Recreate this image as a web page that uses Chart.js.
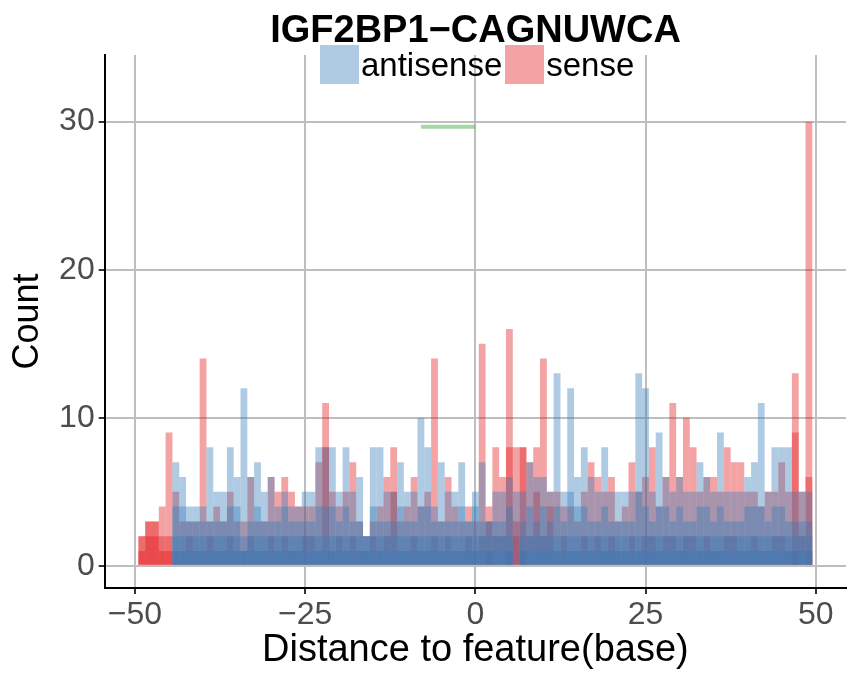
<!DOCTYPE html>
<html>
<head>
<meta charset="utf-8">
<script src="https://cdn.jsdelivr.net/npm/chart.js@4.4.1/dist/chart.umd.min.js"></script>
<style>
  html, body { margin: 0; padding: 0; background: #fff; }
  #wrap { position: relative; width: 848px; height: 673px; font-family: "Liberation Sans", Arial, sans-serif; }
  #chart { position: absolute; left: 0; top: 0; }
  #title { position: absolute; left: 105px; width: 741px; top: 10px; text-align: center;
           font-weight: bold; font-size: 38px; line-height: 38px; color: #000; }
  #legend { position: absolute; left: 320px; top: 45px; height: 39px; display: flex; align-items: center;
            font-size: 33px; color: #000; }
  #legend .key { width: 39px; height: 39px; }
  #legend .lab { margin: 0 3px 0 2px; line-height: 39px; }
</style>
</head>
<body>
<div id="wrap">
  <canvas id="chart" width="848" height="673"></canvas>
  <div id="title">IGF2BP1&minus;CAGNUWCA</div>
  <div id="legend">
    <div class="key" style="background: rgba(55,126,184,0.4)"></div><span class="lab">antisense</span>
    <div class="key" style="background: rgba(228,26,28,0.4)"></div><span class="lab">sense</span>
  </div>
</div>
<script>
// bins: distance -49 .. 49 (width 1)
const bins = [];
for (let v = -49; v <= 49; v++) bins.push(v);

// tallest layer of each strand
const antisense = [
  0, 0, 0, 0, 0, 7, 6, 4, 4, 4,
  8, 5, 5, 8, 6, 12, 6, 7, 5, 6,
  4, 5, 4, 4, 5, 5, 8, 8, 8, 5,
  8, 5, 6, 2, 8, 8, 5, 5, 7, 5,
  5, 10, 8, 4, 7, 5, 5, 7, 3, 5,
  7, 3, 5, 5, 6, 5, 5, 7, 6, 6,
  5, 13, 5, 12, 6, 8, 6, 5, 8, 5,
  5, 5, 5, 13, 12, 5, 9, 6, 5, 6,
  5, 5, 7, 6, 5, 9, 5, 5, 5, 6,
  7, 11, 5, 8, 8, 8, 5, 5, 5
];
const sense = [
  2, 3, 3, 4, 9, 5, 3, 3, 3, 14,
  3, 4, 3, 5, 3, 3, 6, 3, 3, 6,
  5, 6, 5, 4, 4, 4, 7, 11, 5, 4,
  5, 7, 3, 2, 3, 4, 6, 8, 3, 4,
  6, 4, 5, 14, 3, 6, 4, 3, 4, 3,
  15, 4, 8, 6, 16, 8, 8, 7, 8, 14,
  5, 5, 4, 4, 3, 5, 7, 6, 5, 6,
  3, 4, 7, 5, 6, 8, 4, 6, 11, 6,
  10, 8, 5, 6, 6, 5, 8, 7, 7, 5,
  5, 4, 5, 5, 7, 5, 13, 5, 30
];

// lower overlapping layers (darker where they pile up)
const antisenseMid = [
  0, 0, 0, 0, 0, 4, 4, 3, 3, 3,
  3, 3, 3, 4, 4, 2, 3, 4, 3, 3,
  3, 4, 3, 3, 3, 3, 4, 4, 4, 3,
  4, 3, 3, 2, 4, 3, 3, 3, 4, 3,
  3, 4, 4, 3, 3, 3, 3, 4, 3, 4,
  3, 3, 3, 3, 4, 0, 3, 4, 3, 4,
  3, 4, 3, 5, 4, 4, 3, 3, 4, 3,
  3, 3, 3, 5, 4, 3, 4, 4, 3, 4,
  3, 3, 4, 4, 3, 4, 3, 3, 3, 4,
  4, 4, 3, 4, 4, 3, 3, 3, 3
];
const antisenseCore = [
  0, 0, 0, 0, 0, 2, 2, 2, 2, 2,
  2, 2, 2, 2, 2, 1, 2, 2, 2, 2,
  2, 2, 2, 2, 2, 2, 2, 2, 2, 2,
  2, 2, 2, 2, 2, 2, 2, 2, 2, 2,
  2, 2, 2, 2, 2, 2, 2, 2, 2, 2,
  2, 2, 2, 2, 2, 0, 2, 2, 2, 2,
  2, 2, 2, 2, 2, 2, 2, 2, 2, 2,
  2, 2, 2, 2, 2, 2, 2, 2, 2, 2,
  2, 2, 2, 2, 2, 2, 2, 2, 2, 2,
  2, 2, 2, 2, 2, 2, 2, 2, 2
];
const antisenseBase = [
  0, 0, 0, 0, 0, 1, 1, 1, 1, 1,
  1, 1, 1, 1, 1, 1, 1, 1, 1, 1,
  1, 1, 1, 1, 1, 1, 1, 1, 1, 1,
  1, 1, 1, 1, 1, 1, 1, 1, 1, 1,
  1, 1, 1, 1, 1, 1, 1, 1, 1, 1,
  1, 1, 1, 1, 1, 0, 1, 1, 1, 1,
  1, 1, 1, 1, 1, 1, 1, 1, 1, 1,
  1, 1, 1, 1, 1, 1, 1, 1, 1, 1,
  1, 1, 1, 1, 1, 1, 1, 1, 1, 1,
  1, 1, 1, 1, 1, 1, 1, 1, 1
];
const senseMid = [
  2, 3, 3, 2, 2, 1, 1, 2, 1, 1,
  2, 1, 1, 2, 1, 1, 2, 1, 1, 2,
  1, 2, 1, 1, 2, 2, 1, 8, 1, 2,
  1, 2, 1, 1, 2, 1, 2, 5, 1, 1,
  2, 1, 1, 2, 1, 2, 1, 1, 2, 1,
  2, 3, 2, 2, 8, 3, 8, 2, 5, 2,
  4, 1, 2, 1, 1, 2, 1, 2, 1, 2,
  1, 1, 2, 1, 2, 2, 1, 2, 2, 1,
  2, 2, 1, 2, 1, 1, 2, 2, 1, 1,
  2, 1, 1, 2, 2, 1, 9, 2, 6
];
const senseCore = [
  1, 2, 2, 1, 1, 0, 0, 0, 0, 0,
  0, 0, 0, 0, 0, 0, 0, 0, 0, 0,
  0, 0, 0, 0, 0, 0, 0, 0, 0, 0,
  0, 0, 0, 0, 0, 0, 0, 0, 0, 0,
  0, 0, 0, 0, 0, 0, 0, 0, 0, 0,
  0, 1, 0, 0, 1, 2, 1, 0, 0, 0,
  0, 0, 0, 0, 0, 0, 0, 0, 0, 0,
  0, 0, 0, 0, 0, 0, 0, 0, 0, 0,
  0, 0, 0, 0, 0, 0, 0, 0, 0, 0,
  0, 0, 0, 0, 0, 0, 1, 0, 1
];

// green feature mark
const markX = [-8, 0];
const markY = 29.65;

const xTicks = [-50, -25, 0, 25, 50];
const yTicks = [0, 10, 20, 30];

const BLUE = 'rgba(55,126,184,0.4)';
const RED = 'rgba(228,26,28,0.4)';

function toPoints(arr) {
  return bins.map((b, i) => ({ x: b, y: arr[i] }));
}

function barSet(label, arr, color) {
  return { type: 'bar', label: label, data: toPoints(arr), backgroundColor: color };
}

const datasets = [
  {
    type: 'line',
    label: 'feature',
    data: markX.map(x => ({ x: x, y: markY })),
    borderColor: 'rgba(77,175,74,0.5)',
    borderWidth: 4,
    pointRadius: 0,
  },
  barSet('antisense', antisense, BLUE),
  barSet('antisense2', antisenseMid, BLUE),
  barSet('antisense3', antisenseCore, BLUE),
  barSet('antisense4', antisenseBase, BLUE),
  barSet('sense', sense, RED),
  barSet('sense2', senseMid, RED),
  barSet('sense3', senseCore, RED),
];

function minusLabel(v) {
  return v < 0 ? '\u2212' + Math.abs(v) : String(v);
}

new Chart(document.getElementById('chart'), {
  type: 'bar',
  data: { datasets: datasets },
  options: {
    responsive: false,
    animation: false,
    devicePixelRatio: 1,
    layout: { padding: { left: 0, right: 2, top: 55, bottom: 0 } },
    datasets: {
      bar: { grouped: false, barPercentage: 1, categoryPercentage: 1, borderWidth: 0, inflateAmount: 0 }
    },
    plugins: { legend: { display: false }, tooltip: { enabled: false } },
    scales: {
      x: {
        type: 'linear',
        offset: false,
        min: -54.45,
        max: 54.45,
        afterBuildTicks: s => { s.ticks = xTicks.map(v => ({ value: v })); },
        afterFit: s => { s.height = 85; },
        ticks: {
          color: '#4d4d4d',
          font: { family: 'Liberation Sans', size: 32 },
          padding: 2,
          maxRotation: 0,
          callback: v => minusLabel(v),
        },
        grid: { offset: false, color: '#bebebe', lineWidth: 2, tickColor: '#333', tickLength: 6, tickWidth: 2 },
        border: { display: true, color: '#000', width: 2 },
        title: {
          display: true,
          text: 'Distance to feature(base)',
          color: '#000',
          font: { family: 'Liberation Sans', size: 38 },
          padding: { top: 0, bottom: 0 },
        },
      },
      y: {
        type: 'linear',
        min: -1.5,
        max: 34.5,
        afterBuildTicks: s => { s.ticks = yTicks.map(v => ({ value: v })); },
        afterFit: s => { s.width = 104.7; },
        ticks: {
          color: '#4d4d4d',
          font: { family: 'Liberation Sans', size: 32 },
          padding: 4,
          callback: v => minusLabel(v),
        },
        grid: { color: '#bebebe', lineWidth: 2, tickColor: '#333', tickLength: 6, tickWidth: 2 },
        border: { display: true, color: '#000', width: 2 },
        title: {
          display: true,
          text: 'Count',
          color: '#000',
          font: { family: 'Liberation Sans', size: 36 },
          padding: { top: 6, bottom: 0 },
        },
      },
    },
  },
});
</script>
</body>
</html>
